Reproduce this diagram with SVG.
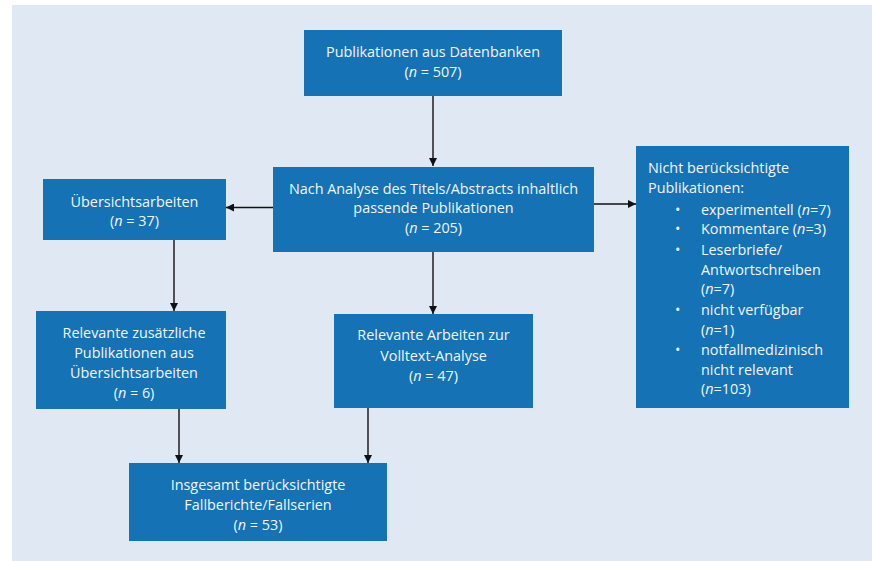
<svg xmlns="http://www.w3.org/2000/svg" width="872" height="561" viewBox="0 0 872 561">
<defs>
<marker id="ah" viewBox="0 0 10 10" refX="10" refY="5" markerWidth="8" markerHeight="8" markerUnits="userSpaceOnUse" orient="auto">
<path d="M0,0 L10,5 L0,10 z" fill="#111"/>
</marker>
<style>
.box{fill:#1572b5}
.t{font-family:"Open Sans","Noto Sans",sans-serif;font-size:14.4px;fill:#f2f6fb}
.c{text-anchor:middle}
.l{fill:none;stroke:#111;stroke-width:1.4;marker-end:url(#ah)}
</style>
</defs>
<rect x="12" y="5" width="860" height="556" fill="#dfe8f3"/>
<g id="connectors">
<line class="l" x1="433" y1="96" x2="433" y2="166"/>
<line class="l" x1="273" y1="207.5" x2="226" y2="207.5"/>
<line class="l" x1="594" y1="204" x2="636" y2="204"/>
<line class="l" x1="174" y1="240" x2="174" y2="311"/>
<line class="l" x1="433" y1="252" x2="433" y2="314"/>
<line class="l" x1="179" y1="409" x2="179" y2="463"/>
<line class="l" x1="368" y1="408" x2="368" y2="463"/>
</g>
<g id="n1">
<rect class="box" x="304" y="30" width="258" height="66"/>
<text class="t c" x="433" y="56.5">Publikationen aus Datenbanken</text>
<text class="t c" x="433" y="76.5">(<tspan font-style="italic">n</tspan> = 507)</text>
</g>
<g id="n2">
<rect class="box" x="273" y="167" width="321" height="85"/>
<text class="t c" x="433.5" y="194">Nach Analyse des Titels/Abstracts inhaltlich</text>
<text class="t c" x="433.5" y="213">passende Publikationen</text>
<text class="t c" x="433.5" y="233">(<tspan font-style="italic">n</tspan> = 205)</text>
</g>
<g id="n3">
<rect class="box" x="43" y="179" width="183" height="61"/>
<text class="t c" x="134.5" y="206.5">Übersichtsarbeiten</text>
<text class="t c" x="134.5" y="225.5">(<tspan font-style="italic">n</tspan> = 37)</text>
</g>
<g id="n4">
<rect class="box" x="636" y="146" width="213" height="262"/>
<text class="t" x="648" y="173">Nicht berücksichtigte</text>
<text class="t" x="648" y="193">Publikationen:</text>
<text class="t" x="675" y="215">•</text>
<text class="t" x="701" y="215">experimentell (<tspan font-style="italic">n</tspan>=7)</text>
<text class="t" x="675" y="234">•</text>
<text class="t" x="701" y="234">Kommentare (<tspan font-style="italic">n</tspan>=3)</text>
<text class="t" x="675" y="255">•</text>
<text class="t" x="701" y="255">Leserbriefe/</text>
<text class="t" x="701" y="275">Antwortschreiben</text>
<text class="t" x="701" y="294">(<tspan font-style="italic">n</tspan>=7)</text>
<text class="t" x="675" y="315">•</text>
<text class="t" x="701" y="315">nicht verfügbar</text>
<text class="t" x="701" y="335">(<tspan font-style="italic">n</tspan>=1)</text>
<text class="t" x="675" y="355">•</text>
<text class="t" x="701" y="355">notfallmedizinisch</text>
<text class="t" x="701" y="375">nicht relevant</text>
<text class="t" x="701" y="394">(<tspan font-style="italic">n</tspan>=103)</text>
</g>
<g id="n5">
<rect class="box" x="36" y="311" width="190" height="98"/>
<text class="t c" x="134" y="338">Relevante zusätzliche</text>
<text class="t c" x="134" y="358">Publikationen aus</text>
<text class="t c" x="134" y="377.5">Übersichtsarbeiten</text>
<text class="t c" x="134" y="397.5">(<tspan font-style="italic">n</tspan> = 6)</text>
</g>
<g id="n6">
<rect class="box" x="334" y="314" width="199" height="94"/>
<text class="t c" x="433.5" y="340">Relevante Arbeiten zur</text>
<text class="t c" x="433.5" y="361">Volltext-Analyse</text>
<text class="t c" x="433.5" y="381">(<tspan font-style="italic">n</tspan> = 47)</text>
</g>
<g id="n7">
<rect class="box" x="129" y="463" width="258" height="78"/>
<text class="t c" x="258" y="490">Insgesamt berücksichtigte</text>
<text class="t c" x="258" y="510">Fallberichte/Fallserien</text>
<text class="t c" x="258" y="530">(<tspan font-style="italic">n</tspan> = 53)</text>
</g>
</svg>
